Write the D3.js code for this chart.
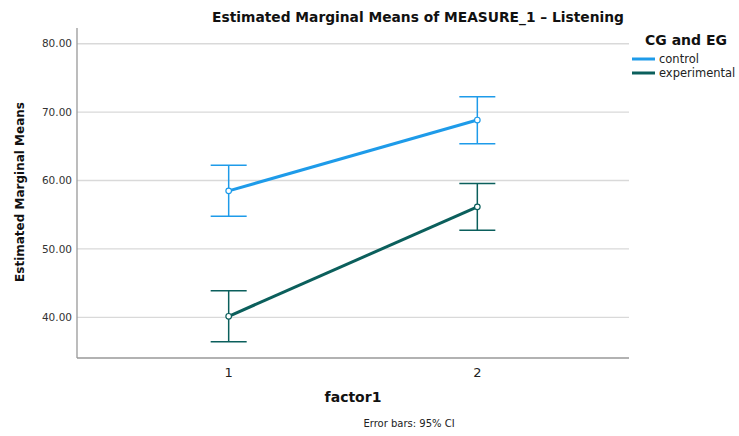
<!DOCTYPE html>
<html>
<head>
<meta charset="utf-8">
<script src="https://cdn.jsdelivr.net/npm/d3@7"></script>
<style>
  body { margin: 0; background: #fff; }
  svg { font-family: "DejaVu Sans", Verdana, sans-serif; }
  .grid line { stroke: #d9d9d9; stroke-width: 1.3; }
  .axis-line { stroke: #999; stroke-width: 1.3; }
  .tick-label { font-size: 10.5px; fill: #333; }
  .bold { font-weight: bold; fill: #111; }
</style>
</head>
<body>
<svg id="chart" width="739" height="436"></svg>
<script>
// data
var factorLevels = ["1", "2"];
var groupNames = ["control", "experimental"];
var groupColors = ["#1e9be9", "#0b5f5c"];
var controlMeans = [58.49, 68.84];
var controlLower = [54.79, 65.37];
var controlUpper = [62.25, 72.26];
var experimentalMeans = [40.15, 56.15];
var experimentalLower = [36.44, 52.74];
var experimentalUpper = [43.90, 59.57];
var yTicks = [40, 50, 60, 70, 80];

var series = [
  { name: groupNames[0], color: groupColors[0], mean: controlMeans, lo: controlLower, hi: controlUpper },
  { name: groupNames[1], color: groupColors[1], mean: experimentalMeans, lo: experimentalLower, hi: experimentalUpper }
];

var plot = { left: 77, right: 629, top: 28, bottom: 358 };

var svg = d3.select("#chart");

var x = d3.scalePoint()
  .domain(factorLevels)
  .range([plot.left, plot.right])
  .padding(0.61);

var y = d3.scaleLinear()
  .domain([34.05, 82.3])
  .range([plot.bottom, plot.top]);

// gridlines
svg.append("g")
  .classed("grid", true)
  .selectAll("line")
  .data(yTicks)
  .enter()
  .append("line")
  .attr("x1", plot.left)
  .attr("x2", plot.right)
  .attr("y1", function (d) { return y(d); })
  .attr("y2", function (d) { return y(d); });

// axes lines
svg.append("line").classed("axis-line", true)
  .attr("x1", plot.left).attr("x2", plot.left)
  .attr("y1", plot.top).attr("y2", plot.bottom);
svg.append("line").classed("axis-line", true)
  .attr("x1", plot.left).attr("x2", plot.right)
  .attr("y1", plot.bottom).attr("y2", plot.bottom);

// y tick labels
svg.append("g")
  .selectAll("text")
  .data(yTicks)
  .enter()
  .append("text")
  .classed("tick-label", true)
  .attr("x", plot.left - 5)
  .attr("y", function (d) { return y(d); })
  .attr("dy", "0.35em")
  .attr("text-anchor", "end")
  .text(function (d) { return d3.format(".2f")(d); });

// x tick labels
svg.append("g")
  .selectAll("text")
  .data(factorLevels)
  .enter()
  .append("text")
  .attr("x", function (d) { return x(d); })
  .attr("y", plot.bottom + 19)
  .attr("text-anchor", "middle")
  .style("font-size", "13px")
  .style("fill", "#222")
  .text(function (d) { return d; });

// series
var capHalf = 18;
var groups = svg.append("g")
  .selectAll("g")
  .data(series)
  .enter()
  .append("g");

groups.each(function (s) {
  var g = d3.select(this);
  var pts = factorLevels.map(function (f, i) {
    return { f: f, mean: s.mean[i], lo: s.lo[i], hi: s.hi[i] };
  });
  // error bars
  var eb = g.selectAll(".eb").data(pts).enter().append("g").classed("eb", true)
    .style("stroke", s.color).style("stroke-width", 1.5);
  eb.append("line")
    .attr("x1", function (d) { return x(d.f); })
    .attr("x2", function (d) { return x(d.f); })
    .attr("y1", function (d) { return y(d.lo); })
    .attr("y2", function (d) { return y(d.hi); });
  eb.append("line")
    .attr("x1", function (d) { return x(d.f) - capHalf; })
    .attr("x2", function (d) { return x(d.f) + capHalf; })
    .attr("y1", function (d) { return y(d.hi); })
    .attr("y2", function (d) { return y(d.hi); });
  eb.append("line")
    .attr("x1", function (d) { return x(d.f) - capHalf; })
    .attr("x2", function (d) { return x(d.f) + capHalf; })
    .attr("y1", function (d) { return y(d.lo); })
    .attr("y2", function (d) { return y(d.lo); });
  // mean line
  g.append("path")
    .datum(pts)
    .attr("fill", "none")
    .attr("stroke", s.color)
    .attr("stroke-width", 3)
    .attr("d", d3.line()
      .x(function (d) { return x(d.f); })
      .y(function (d) { return y(d.mean); }));
  // markers
  g.selectAll("circle").data(pts).enter().append("circle")
    .attr("cx", function (d) { return x(d.f); })
    .attr("cy", function (d) { return y(d.mean); })
    .attr("r", 2.8)
    .attr("fill", "#fff")
    .attr("stroke", s.color)
    .attr("stroke-width", 1.2);
});

// title
svg.append("text")
  .classed("bold", true)
  .attr("x", 418)
  .attr("y", 21.5)
  .attr("text-anchor", "middle")
  .style("font-size", "13.8px")
  .text("Estimated Marginal Means of MEASURE_1 – Listening");

// y axis title
svg.append("text")
  .classed("bold", true)
  .attr("transform", "translate(" + [24, 192] + ") rotate(-90)")
  .attr("text-anchor", "middle")
  .style("font-size", "12px")
  .text("Estimated Marginal Means");

// x axis title
svg.append("text")
  .classed("bold", true)
  .attr("x", 353)
  .attr("y", 402)
  .attr("text-anchor", "middle")
  .style("font-size", "14px")
  .text("factor1");

// footnote
svg.append("text")
  .attr("x", 409)
  .attr("y", 427)
  .attr("text-anchor", "middle")
  .style("font-size", "10px")
  .style("fill", "#222")
  .text("Error bars: 95% CI");

// legend
var legend = svg.append("g").attr("transform", "translate(" + [632, 0] + ")");
legend.append("text")
  .classed("bold", true)
  .attr("x", 13)
  .attr("y", 44.5)
  .style("font-size", "14px")
  .text("CG and EG");
var items = legend.selectAll(".item")
  .data(series)
  .enter()
  .append("g")
  .classed("item", true)
  .attr("transform", function (d, i) { return "translate(" + [0, 59 + i * 14] + ")"; });
items.append("line")
  .attr("x1", 0).attr("x2", 23)
  .attr("y1", 0).attr("y2", 0)
  .attr("stroke", function (d) { return d.color; })
  .attr("stroke-width", 3);
items.append("text")
  .attr("x", 27)
  .attr("dy", "0.35em")
  .style("font-size", "11.5px")
  .style("fill", "#222")
  .text(function (d) { return d.name; });
</script>
</body>
</html>
